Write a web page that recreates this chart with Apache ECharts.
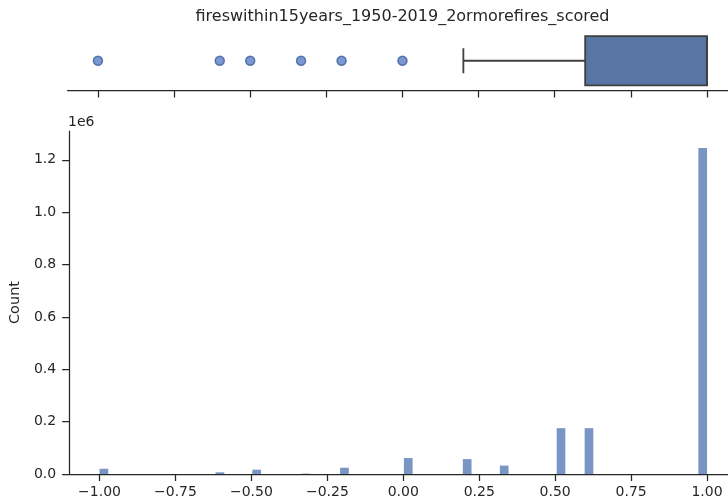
<!DOCTYPE html>
<html>
<head>
<meta charset="utf-8">
<script src="https://cdn.jsdelivr.net/npm/echarts@6/dist/echarts.min.js"></script>
<style>html,body{margin:0;padding:0;background:#fff}#c{width:728px;height:504px}</style>
</head>
<body>
<div id="c"></div>
<script>
// ---- data ----
const titleText = 'fireswithin15years_1950-2019_2ormorefires_scored';
const xTicks = [-1.0, -0.75, -0.5, -0.25, 0.0, 0.25, 0.5, 0.75, 1.0];
const yTicks = [0, 200000, 400000, 600000, 800000, 1000000, 1200000];
const binLeft = [-1.0, -0.618, -0.497, -0.335, -0.208, 0.002, 0.196, 0.318, 0.505, 0.597, 0.9714];
const binWidth = 0.0286;
const binCount = [20000, 6500, 16500, 1500, 24000, 61000, 57000, 32000, 175000, 175000, 1245000];
const boxStats = [0.2, 0.6, 1.0, 1.0, 1.0]; // whisker low, Q1, median, Q3, whisker high
const outliers = [-1.0, -0.6, -0.5, -0.333, -0.2, 0.0];

const FONT = 'DejaVu Sans';
const INK = '#262626';
const fmtX = v => v.toFixed(2).replace('-', '\u2212');

const histData = binLeft.map((x0, i) => [x0, x0 + binWidth, binCount[i]]);

// visible x extent (the reference figure is cropped on the right)
const X_MIN = -1.1, X_MAX = 1.069;

const axisCommon = {
  type: 'value', min: X_MIN, max: X_MAX,
  axisLine: { show: true, onZero: false, lineStyle: { color: INK, width: 1.25 } },
  axisTick: { show: true, inside: false, length: 7, customValues: xTicks, lineStyle: { color: INK, width: 1.25 } },
  splitLine: { show: false }
};

const chart = echarts.init(document.getElementById('c'), null, { renderer: 'canvas' });
chart.setOption({
  animation: false,
  backgroundColor: '#fff',
  textStyle: { fontFamily: FONT },
  grid: [
    { left: 67.5, right: 0, top: 31, height: 59.5 },
    { left: 67.5, right: 0, top: 131, height: 343 }
  ],
  xAxis: [
    Object.assign({}, axisCommon, { gridIndex: 0, axisLabel: { show: false } }),
    Object.assign({}, axisCommon, {
      gridIndex: 1,
      axisLabel: { show: true, customValues: xTicks, formatter: fmtX, color: INK, fontSize: 14, fontFamily: FONT, margin: 11 }
    })
  ],
  yAxis: [
    { gridIndex: 0, type: 'value', min: 0, max: 1, show: false },
    {
      gridIndex: 1, type: 'value', min: 0, max: 1310000,
      axisLine: { show: true, onZero: false, lineStyle: { color: INK, width: 1.25 } },
      axisTick: { show: true, inside: false, length: 7, customValues: yTicks, lineStyle: { color: INK, width: 1.25 } },
      axisLabel: { show: true, customValues: yTicks, formatter: v => (v / 1e6).toFixed(1), color: INK, fontSize: 14, fontFamily: FONT, margin: 13 },
      splitLine: { show: false },
      name: 'Count', nameLocation: 'middle', nameGap: 39, nameRotate: 90,
      nameTextStyle: { color: INK, fontSize: 14.5, fontFamily: FONT }
    }
  ],
  graphic: [
    { type: 'text', x: 402.5, y: 17, style: { text: titleText, font: '16px "DejaVu Sans"', fill: INK, textAlign: 'center', textVerticalAlign: 'middle' } },
    { type: 'text', x: 68, y: 122, style: { text: '1e6', font: '14px "DejaVu Sans"', fill: INK, textAlign: 'left', textVerticalAlign: 'middle' } }
  ],
  series: [
    {
      type: 'custom', xAxisIndex: 1, yAxisIndex: 1,
      data: histData,
      renderItem: function (params, api) {
        const p0 = api.coord([api.value(0), api.value(2)]);
        const p1 = api.coord([api.value(1), 0]);
        return { type: 'rect', shape: { x: p0[0], y: p0[1], width: p1[0] - p0[0], height: p1[1] - p0[1] },
                 style: { fill: '#7995c4' } };
      }
    },
    {
      type: 'custom', xAxisIndex: 0, yAxisIndex: 0,
      data: [boxStats],
      renderItem: function (params, api) {
        const lo = api.value(0), q1 = api.value(1), med = api.value(2), q3 = api.value(3), hi = api.value(4);
        const c = 0.5, hb = 0.415, hc = 0.21;
        const a = api.coord([q1, c + hb]);
        const b = api.coord([q3, c - hb]);
        const w0 = api.coord([lo, c]);
        const w1 = api.coord([q1, c]);
        const capT = api.coord([lo, c + hc]);
        const capB = api.coord([lo, c - hc]);
        const h0 = api.coord([q3, c]);
        const h1 = api.coord([hi, c]);
        const mT = api.coord([med, c + hb]);
        const mB = api.coord([med, c - hb]);
        const ls = { stroke: '#3f3f3f', lineWidth: 1.8 };
        return { type: 'group', children: [
          { type: 'line', shape: { x1: w0[0], y1: w0[1], x2: w1[0], y2: w1[1] }, style: ls },
          { type: 'line', shape: { x1: capT[0], y1: capT[1], x2: capB[0], y2: capB[1] }, style: ls },
          { type: 'line', shape: { x1: h0[0], y1: h0[1], x2: h1[0], y2: h1[1] }, style: ls },
          { type: 'rect', shape: { x: a[0], y: a[1], width: b[0] - a[0], height: b[1] - a[1] }, style: { fill: '#5975a4', stroke: '#3f3f3f', lineWidth: 1.8 } },
          { type: 'line', shape: { x1: mT[0], y1: mT[1], x2: mB[0], y2: mB[1] }, style: ls }
        ] };
      }
    },
    {
      type: 'scatter', xAxisIndex: 0, yAxisIndex: 0,
      symbol: 'circle', symbolSize: 9,
      itemStyle: { color: '#5a7fc4', borderColor: '#3d5f9f', borderWidth: 1.5 },
      data: outliers.map(v => [v, 0.5])
    }
  ]
});
</script>
</body>
</html>
